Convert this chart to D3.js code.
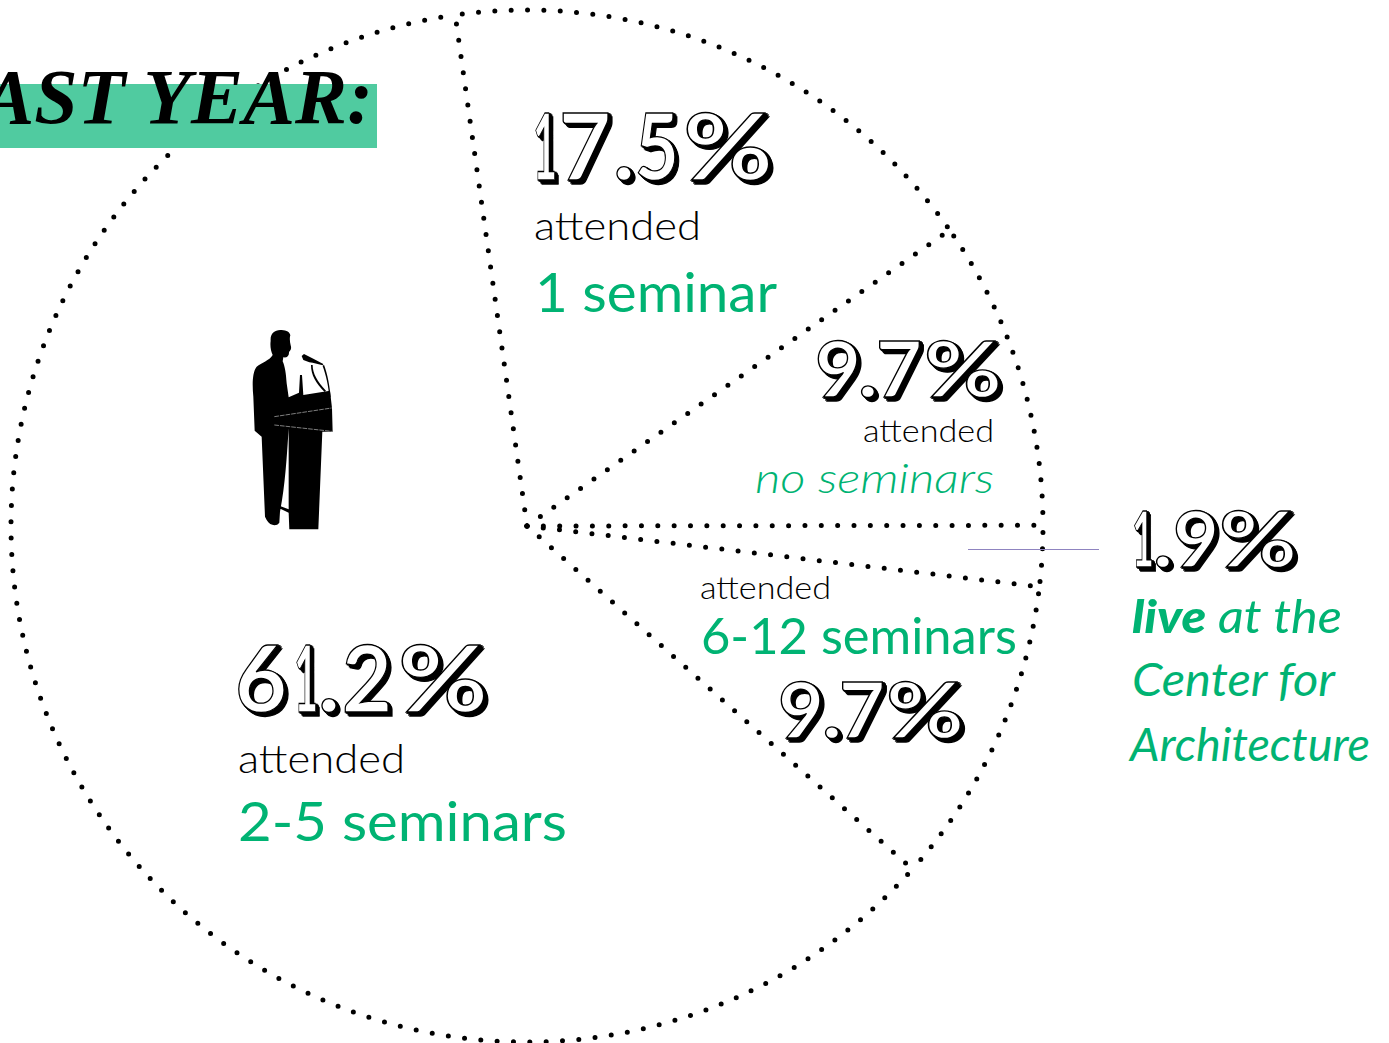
<!DOCTYPE html>
<html><head><meta charset="utf-8">
<script src="https://cdn.jsdelivr.net/npm/d3@7"></script>
<style>html,body{margin:0;padding:0;background:#fff;overflow:hidden}svg{display:block}</style>
</head><body>
<svg id="c" width="1389" height="1043"></svg>
<script>
const categories = ["1 seminar","no seminars","live at the Center for Architecture","6-12 seminars","2-5 seminars"];
const shares = [17.5, 9.7, 1.9, 9.7, 61.2];
const shareLabels = ["17.5%","9.7%","1.9%","9.7%","61.2%"];
const GREEN = "#00b373", FONT = "Lato, sans-serif";
const svg = d3.select("#c");
const cx = 527, cy = 526, R = 516;
const startDeg = -8;

// extruded-shadow filter for the percentages
const depth = d3.range(1,6);
const filt = svg.append("defs").append("filter").attr("id","extrude")
  .attr("x","-5%").attr("y","-10%").attr("width","115%").attr("height","125%");
filt.selectAll("feOffset").data(depth).join("feOffset")
  .attr("in","SourceAlpha").attr("dx",d=>d*0.85).attr("dy",d=>d*0.7).attr("result",d=>"s"+d);
const merge = filt.append("feMerge");
merge.selectAll("feMergeNode").data(depth.map(d=>"s"+d).concat("SourceGraphic")).join("feMergeNode").attr("in",d=>d);

// pie outline
const pie = d3.pie().sort(null).value(d=>d)
  .startAngle(startDeg*Math.PI/180).endAngle((startDeg+360)*Math.PI/180);
const slices = pie(shares);
const g = svg.append("g").attr("transform",`translate(${cx},${cy})`);
g.selectAll("path").data(slices).join("path")
  .attr("d", d=>{
    const p = d3.path(), a0 = d.startAngle-Math.PI/2, a1 = d.endAngle-Math.PI/2;
    p.moveTo(0,0); p.lineTo(R*Math.cos(a0),R*Math.sin(a0));
    p.arc(0,0,R,a0,a1);
    return p.toString();
  })
  .attr("fill","none").attr("stroke","#000").attr("stroke-width",5)
  .attr("stroke-linecap","round").attr("stroke-dasharray","0 16.35");

// title band
svg.append("rect").attr("x",0).attr("y",84).attr("width",377).attr("height",64).attr("fill","#50cba0");
svg.append("text").text("LAST YEAR:").attr("x",373).attr("y",123).attr("text-anchor","end")
  .attr("font-family","'Liberation Serif',serif").attr("font-weight",700).attr("font-style","italic")
  .attr("font-size",78).attr("fill","#000");

// leader
svg.append("line").attr("x1",968).attr("x2",1099).attr("y1",549.5).attr("y2",549.5)
  .attr("stroke","#8f84c0").attr("stroke-width",1.2);

// shadowed percentages: baseline, size and each glyph's [left, advance]
const pctPos = [
  {y:180,s:92,g:[[533,24],[559,52],[613,22],[635,44],[683,90]]},
  {y:397,s:76,g:[[815,46],[858,20],[876,46],[924,78]]},
  {y:567,s:76,g:[[1132,22],[1153,20],[1173,46],[1219,78]]},
  {y:738,s:76,g:[[778,46],[822,20],[839,46],[886,78]]},
  {y:712,s:92,g:[[235,52],[294,24],[318,22],[342,50],[398,90]]}
];
shareLabels.forEach((t,i)=>{
  const p = pctPos[i];
  svg.append("text").attr("filter","url(#extrude)")
    .attr("font-family",FONT).attr("font-weight",700).attr("font-size",p.s).attr("fill","#fff").attr("stroke","#000").attr("stroke-width",1.3)
    .selectAll("tspan").data(t.split("")).join("tspan").text(c=>c)
    .attr("x",(c,j)=>p.g[j][0]).attr("y",p.y)
    .attr("textLength",(c,j)=>p.g[j][1]).attr("lengthAdjust","spacingAndGlyphs");
});

// labels
const labelText = ["attended","1 seminar","attended","no seminars","attended","6-12 seminars","attended","2-5 seminars"];
const labelStyle = [
  {x:534,y:240,s:40,w:167,c:"#000",wt:300},
  {x:535,y:312,s:54,w:242,c:GREEN,wt:400},
  {x:863,y:442,s:32,w:131,c:"#000",wt:300},
  {x:755,y:493,s:42,w:239,c:GREEN,wt:300,it:1},
  {x:700,y:599,s:32,w:131,c:"#000",wt:300},
  {x:701,y:654,s:50,w:316,c:GREEN,wt:400},
  {x:238,y:773,s:40,w:167,c:"#000",wt:300},
  {x:238,y:841,s:54,w:329,c:GREEN,wt:400}
];
svg.append("g").selectAll("text").data(labelText).join("text").text(d=>d)
  .each(function(d,i){
    const l = labelStyle[i];
    d3.select(this).attr("x",l.x).attr("y",l.y).attr("font-size",l.s).attr("fill",l.c)
      .attr("font-weight",l.wt).attr("font-style",l.it?"italic":"normal")
      .attr("font-family",FONT).attr("textLength",l.w).attr("lengthAdjust","spacingAndGlyphs");
  });

// right hand note
const live = svg.append("text").attr("x",1132).attr("y",633).attr("font-family",FONT)
  .attr("font-size",46).attr("font-style","italic").attr("fill",GREEN).attr("textLength",210).attr("lengthAdjust","spacingAndGlyphs");
live.append("tspan").text("live").attr("font-weight",900);
live.append("tspan").text(" at the");
[["Center for",1132,696,203],["Architecture",1130,761,240]].forEach(([t,x,y,w])=>{
  svg.append("text").text(t).attr("x",x).attr("y",y).attr("font-family",FONT).attr("font-size",46)
    .attr("font-style","italic").attr("fill",GREEN).attr("textLength",w).attr("lengthAdjust","spacingAndGlyphs");
});

// speaker silhouette
const icon = svg.append("g").attr("transform","translate(230,320) scale(0.3333)").attr("fill","#000");
icon.append("path").attr("d","M122 62 C120 40 135 28 155 30 C170 31 180 36 181 46 C178 56 180 66 182 76 C186 88 180 92 177 96 C178 108 170 114 160 112 L158 124 C165 140 168 160 170 190 L176 232 L207 218 L210 165 L216 165 L220 225 L300 212 L306 264 L308 335 L277 335 L265 628 L178 628 L176 578 L142 562 L150 558 L176 568 L176 325 C170 420 165 500 150 575 L148 608 C140 620 120 618 110 600 L105 590 L95 350 L74 332 L70 230 C66 190 68 155 80 140 C95 128 118 122 128 105 C122 92 120 78 122 62 Z");
icon.append("path").attr("d","M215 108 L222 102 L250 116 L280 132 L278 136 L248 128 L238 127 L220 120 Z");
icon.append("path").attr("d","M282 134 C292 160 300 200 302 232 L298 232 C296 200 288 165 278 138 Z M243 135 L248 135 C248 160 262 185 288 212 L284 216 C258 190 243 165 243 135 Z");
icon.append("path").attr("d","M133 280 L133 315 L176 322 L176 300 Z");
icon.append("path").attr("d","M133 290 L305 264 M133 315 L305 334").attr("stroke","#fff").attr("stroke-width",1.5).attr("stroke-dasharray","14 3").attr("fill","none");
</script>
</body></html>
